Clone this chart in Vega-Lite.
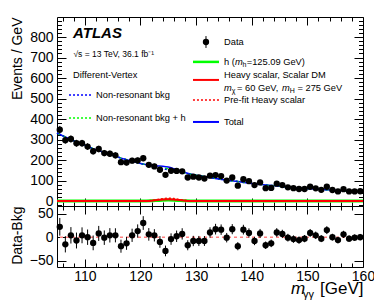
{
  "$schema": "https://vega.github.io/schema/vega-lite/v6.json",
  "padding": {"left": 9, "top": 16, "right": 2, "bottom": 2},
  "spacing": 0,
  "bounds": "flush",
  "background": "white",
  "config": {
    "view": {"stroke": "black", "strokeWidth": 1},
    "axis": {"domain": false, "grid": false, "tickColor": "black", "tickWidth": 1, "labelColor": "black", "titleColor": "black", "labelFont": "Liberation Sans", "titleFont": "Liberation Sans", "labelFontSize": 14, "titleFontSize": 14, "titleFontWeight": "normal", "labelFlush": false, "labelOverlap": false},
    "text": {"font": "Liberation Sans", "color": "black"}
  },
  "datasets": {
    "pts": [
      {"m":105.5,"data":348,"err":18.7,"resid":22},{"m":106.5,"data":297,"err":17.2,"resid":-15},{"m":107.5,"data":303,"err":17.4,"resid":4},{"m":108.5,"data":282,"err":16.8,"resid":-7},{"m":109.5,"data":282,"err":16.8,"resid":4},{"m":110.5,"data":266,"err":16.3,"resid":0},{"m":111.5,"data":243,"err":15.6,"resid":-12},{"m":112.5,"data":254,"err":15.9,"resid":8},{"m":113.5,"data":234,"err":15.3,"resid":-1},{"m":114.5,"data":231,"err":15.2,"resid":4},
      {"m":115.5,"data":223,"err":14.9,"resid":4},{"m":116.5,"data":190,"err":13.8,"resid":-19},{"m":117.5,"data":188,"err":13.7,"resid":-13},{"m":118.5,"data":197,"err":14.0,"resid":4},{"m":119.5,"data":198,"err":14.1,"resid":13},{"m":120.5,"data":209,"err":14.5,"resid":30},{"m":121.5,"data":177,"err":13.3,"resid":6},{"m":122.5,"data":169,"err":13.0,"resid":4},{"m":123.5,"data":153,"err":12.4,"resid":-10},{"m":124.5,"data":128,"err":11.3,"resid":-29},
      {"m":125.5,"data":148,"err":12.2,"resid":-4},{"m":126.5,"data":147,"err":12.1,"resid":2},{"m":127.5,"data":145,"err":12.0,"resid":7},{"m":128.5,"data":115,"err":10.7,"resid":-17},{"m":129.5,"data":119,"err":10.9,"resid":-8},{"m":130.5,"data":115,"err":10.7,"resid":-8},{"m":131.5,"data":110,"err":10.5,"resid":-8},{"m":132.5,"data":124,"err":11.1,"resid":10},{"m":133.5,"data":127,"err":11.3,"resid":17},{"m":134.5,"data":122,"err":11.0,"resid":16},
      {"m":135.5,"data":100,"err":10.0,"resid":-1},{"m":136.5,"data":115,"err":10.7,"resid":17},{"m":137.5,"data":75,"err":8.7,"resid":-19},{"m":138.5,"data":107,"err":10.3,"resid":16},{"m":139.5,"data":97,"err":9.8,"resid":9},{"m":140.5,"data":78,"err":8.8,"resid":-8},{"m":141.5,"data":91,"err":9.5,"resid":8},{"m":142.5,"data":63,"err":7.9,"resid":-17},{"m":143.5,"data":64,"err":8.0,"resid":-13},{"m":144.5,"data":85,"err":9.2,"resid":10},
      {"m":145.5,"data":78,"err":8.8,"resid":7},{"m":146.5,"data":67,"err":8.2,"resid":-1},{"m":147.5,"data":63,"err":7.9,"resid":-4},{"m":148.5,"data":59,"err":7.7,"resid":-6},{"m":149.5,"data":59,"err":7.7,"resid":-3},{"m":150.5,"data":70,"err":8.4,"resid":9},{"m":151.5,"data":62,"err":7.9,"resid":4},{"m":152.5,"data":55,"err":7.4,"resid":-3},{"m":153.5,"data":70,"err":8.4,"resid":15},{"m":154.5,"data":54,"err":7.3,"resid":0},
      {"m":155.5,"data":47,"err":6.9,"resid":-6},{"m":156.5,"data":58,"err":7.6,"resid":6},{"m":157.5,"data":47,"err":6.9,"resid":-3},{"m":158.5,"data":47,"err":6.9,"resid":-1},{"m":159.5,"data":48,"err":6.9,"resid":0}
    ],
    "curves": [
      {"m":105,"bkg":332,"bkgh":332,"total":332},{"m":107.5,"bkg":300,"bkgh":300,"total":300},{"m":110,"bkg":272,"bkgh":272,"total":272},{"m":112.5,"bkg":246,"bkgh":246,"total":246},{"m":115,"bkg":223,"bkgh":223,"total":223},{"m":117.5,"bkg":202,"bkgh":202,"total":202},{"m":119,"bkg":191,"bkgh":191,"total":191},
      {"m":120,"bkg":183,"bkgh":183.1,"total":183.3},{"m":121,"bkg":177,"bkgh":177.4,"total":178.2},{"m":122,"bkg":170,"bkgh":171.2,"total":173.4},{"m":123,"bkg":164,"bkgh":166.7,"total":171.6},{"m":124,"bkg":158,"bkgh":162.3,"total":170},{"m":125,"bkg":152,"bkgh":157,"total":166},{"m":126,"bkg":146,"bkgh":150.3,"total":158},{"m":127,"bkg":141,"bkgh":143.7,"total":148.6},{"m":128,"bkg":136,"bkgh":137.2,"total":139.4},{"m":129,"bkg":131,"bkgh":131.4,"total":132.2},{"m":130,"bkg":126,"bkgh":126.1,"total":126.3},
      {"m":131,"bkg":122,"bkgh":122,"total":122},{"m":132.5,"bkg":115,"bkgh":115,"total":115},{"m":135,"bkg":104,"bkgh":104,"total":104},{"m":137.5,"bkg":95,"bkgh":95,"total":95},{"m":140,"bkg":86,"bkgh":86,"total":86},{"m":142.5,"bkg":79,"bkgh":79,"total":79},{"m":145,"bkg":72,"bkgh":72,"total":72},{"m":147.5,"bkg":66,"bkgh":66,"total":66},{"m":150,"bkg":61,"bkgh":61,"total":61},{"m":152.5,"bkg":57,"bkgh":57,"total":57},{"m":155,"bkg":53,"bkgh":53,"total":53},{"m":157.5,"bkg":49,"bkgh":49,"total":49},{"m":160,"bkg":46,"bkgh":46,"total":46}
    ],
    "sig": [
      {"m":105,"h":0,"hs":0,"pre":0},{"m":119,"h":0,"hs":0,"pre":0},{"m":120,"h":0.1,"hs":0.2,"pre":0.3},{"m":121,"h":0.4,"hs":0.8,"pre":1.2},{"m":122,"h":1.2,"hs":2.2,"pre":3.5},{"m":123,"h":2.7,"hs":4.9,"pre":7.5},{"m":124,"h":4.3,"hs":7.7,"pre":12},{"m":125,"h":5,"hs":9,"pre":14},{"m":126,"h":4.3,"hs":7.7,"pre":12},{"m":127,"h":2.7,"hs":4.9,"pre":7.5},{"m":128,"h":1.2,"hs":2.2,"pre":3.5},{"m":129,"h":0.4,"hs":0.8,"pre":1.2},{"m":130,"h":0.1,"hs":0.2,"pre":0.3},{"m":131,"h":0,"hs":0,"pre":0},{"m":160,"h":0,"hs":0,"pre":0}
    ],
    "one": [{}]
  },
  "vconcat": [
    {
      "width": 306,
      "height": 189,
      "resolve": {"axis": {"x": "independent", "y": "independent"}},
      "layer": [
        {
          "data": {"name": "one"},
          "layer": [
            {"data": {"name": "sig"}, "mark": {"type": "line", "color": "#00ff00", "strokeWidth": 3, "interpolate": "monotone"},
             "encoding": {"x": {"field": "m", "type": "quantitative", "axis": null}, "y": {"field": "h", "type": "quantitative", "axis": null}}},
            {"data": {"name": "curves"}, "mark": {"type": "line", "color": "#0000ff", "strokeWidth": 1.5, "interpolate": "monotone"},
             "encoding": {"x": {"field": "m", "type": "quantitative", "axis": null}, "y": {"field": "total", "type": "quantitative", "axis": null}}},
            {"data": {"name": "curves"}, "mark": {"type": "line", "color": "#00ff00", "strokeWidth": 1.5, "strokeDash": [3, 3], "interpolate": "monotone"},
             "encoding": {"x": {"field": "m", "type": "quantitative", "axis": null}, "y": {"field": "bkgh", "type": "quantitative", "axis": null}}},
            {"data": {"name": "curves"}, "mark": {"type": "line", "color": "#0000ff", "strokeWidth": 1.5, "strokeDash": [2, 4], "interpolate": "monotone"},
             "encoding": {"x": {"field": "m", "type": "quantitative", "axis": null}, "y": {"field": "bkg", "type": "quantitative", "axis": null}}},
            {"data": {"name": "sig"}, "mark": {"type": "line", "color": "#ff0000", "strokeWidth": 2, "interpolate": "monotone"},
             "encoding": {"x": {"field": "m", "type": "quantitative", "axis": null}, "y": {"field": "hs", "type": "quantitative", "axis": null}}},
            {"data": {"name": "sig"}, "mark": {"type": "line", "color": "#ff0000", "strokeWidth": 1.5, "strokeDash": [2, 2], "interpolate": "monotone"},
             "encoding": {"x": {"field": "m", "type": "quantitative", "axis": null}, "y": {"field": "pre", "type": "quantitative", "axis": null}}},
            {"data": {"name": "pts"}, "mark": {"type": "errorbar", "color": "black", "thickness": 1},
             "encoding": {"x": {"field": "m", "type": "quantitative", "axis": null}, "y": {"field": "data", "type": "quantitative", "axis": null}, "yError": {"field": "err"}}},
            {"data": {"name": "pts"}, "mark": {"type": "circle", "color": "black", "size": 40, "opacity": 1},
             "encoding": {
               "x": {"field": "m", "type": "quantitative", "axis": null, "scale": {"domain": [105, 160], "nice": false, "zero": false}},
               "y": {"field": "data", "type": "quantitative", "axis": null, "scale": {"domain": [-24, 898], "nice": false, "zero": false}}}},
            {"mark": {"type": "text", "text": "ATLAS", "fontSize": 15, "fontWeight": "bold", "fontStyle": "italic", "align": "left", "baseline": "middle"},
             "encoding": {"x": {"datum": 107.88, "type": "quantitative", "axis": null}, "y": {"datum": 820, "type": "quantitative", "axis": null}}},
            {"mark": {"type": "text", "text": "√s = 13 TeV, 36.1 fb⁻¹", "fontSize": 8.5, "align": "left", "baseline": "middle"},
             "encoding": {"x": {"datum": 107.95, "type": "quantitative", "axis": null}, "y": {"datum": 718, "type": "quantitative", "axis": null}}},
            {"mark": {"type": "text", "text": "Different-Vertex", "fontSize": 9.3, "align": "left", "baseline": "middle"},
             "encoding": {"x": {"datum": 107.88, "type": "quantitative", "axis": null}, "y": {"datum": 615, "type": "quantitative", "axis": null}}},
            {"mark": {"type": "rule", "color": "#0000ff", "strokeWidth": 1.5, "strokeDash": [2, 2]},
             "encoding": {"x": {"datum": 107.16, "type": "quantitative", "axis": null}, "x2": {"datum": 111.11}, "y": {"datum": 518, "type": "quantitative", "axis": null}}},
            {"mark": {"type": "text", "text": "Non-resonant bkg", "fontSize": 9.3, "align": "left", "baseline": "middle"},
             "encoding": {"x": {"datum": 112.01, "type": "quantitative", "axis": null}, "y": {"datum": 518, "type": "quantitative", "axis": null}}},
            {"mark": {"type": "rule", "color": "#00ff00", "strokeWidth": 1.5, "strokeDash": [2, 2]},
             "encoding": {"x": {"datum": 107.16, "type": "quantitative", "axis": null}, "x2": {"datum": 111.11}, "y": {"datum": 405, "type": "quantitative", "axis": null}}},
            {"mark": {"type": "text", "text": "Non-resonant bkg + h", "fontSize": 9.3, "align": "left", "baseline": "middle"},
             "encoding": {"x": {"datum": 112.01, "type": "quantitative", "axis": null}, "y": {"datum": 405, "type": "quantitative", "axis": null}}},
            {"mark": {"type": "rule", "color": "black", "strokeWidth": 1},
             "encoding": {"x": {"datum": 131.78, "type": "quantitative", "axis": null}, "y": {"datum": 747, "type": "quantitative", "axis": null}, "y2": {"datum": 805}}},
            {"mark": {"type": "circle", "color": "black", "size": 40, "opacity": 1},
             "encoding": {"x": {"datum": 131.78, "type": "quantitative", "axis": null}, "y": {"datum": 776, "type": "quantitative", "axis": null}}},
            {"mark": {"type": "text", "text": "Data", "fontSize": 9.3, "align": "left", "baseline": "middle"},
             "encoding": {"x": {"datum": 135.02, "type": "quantitative", "axis": null}, "y": {"datum": 776, "type": "quantitative", "axis": null}}},
            {"mark": {"type": "rule", "color": "#00ff00", "strokeWidth": 2.5},
             "encoding": {"x": {"datum": 129.44, "type": "quantitative", "axis": null}, "x2": {"datum": 134.12}, "y": {"datum": 679, "type": "quantitative", "axis": null}}},
            {"mark": {"type": "text", "text": "h (", "fontSize": 9.3, "align": "left", "baseline": "middle"},
             "encoding": {"x": {"datum": 135.02, "type": "quantitative", "axis": null}, "y": {"datum": 679, "type": "quantitative", "axis": null}}},
            {"mark": {"type": "text", "text": "m", "fontSize": 9.3, "fontStyle": "italic", "align": "left", "baseline": "middle"},
             "encoding": {"x": {"datum": 136.98, "type": "quantitative", "axis": null}, "y": {"datum": 679, "type": "quantitative", "axis": null}}},
            {"mark": {"type": "text", "text": "h", "fontSize": 7, "align": "left", "baseline": "middle"},
             "encoding": {"x": {"datum": 138.36, "type": "quantitative", "axis": null}, "y": {"datum": 666, "type": "quantitative", "axis": null}}},
            {"mark": {"type": "text", "text": "=125.09 GeV)", "fontSize": 9.3, "align": "left", "baseline": "middle"},
             "encoding": {"x": {"datum": 139.1, "type": "quantitative", "axis": null}, "y": {"datum": 679, "type": "quantitative", "axis": null}}},
            {"mark": {"type": "rule", "color": "#ff0000", "strokeWidth": 2},
             "encoding": {"x": {"datum": 129.44, "type": "quantitative", "axis": null}, "x2": {"datum": 134.12}, "y": {"datum": 591, "type": "quantitative", "axis": null}}},
            {"mark": {"type": "text", "text": "Heavy scalar, Scalar DM", "fontSize": 9.3, "align": "left", "baseline": "middle"},
             "encoding": {"x": {"datum": 135.02, "type": "quantitative", "axis": null}, "y": {"datum": 615, "type": "quantitative", "axis": null}}},
            {"mark": {"type": "text", "text": "m", "fontSize": 9.3, "fontStyle": "italic", "align": "left", "baseline": "middle"},
             "encoding": {"x": {"datum": 135.02, "type": "quantitative", "axis": null}, "y": {"datum": 552, "type": "quantitative", "axis": null}}},
            {"mark": {"type": "text", "text": "χ", "fontSize": 7, "align": "left", "baseline": "middle"},
             "encoding": {"x": {"datum": 136.41, "type": "quantitative", "axis": null}, "y": {"datum": 539, "type": "quantitative", "axis": null}}},
            {"mark": {"type": "text", "text": "= 60 GeV,", "fontSize": 9.3, "align": "left", "baseline": "middle"},
             "encoding": {"x": {"datum": 137.35, "type": "quantitative", "axis": null}, "y": {"datum": 552, "type": "quantitative", "axis": null}}},
            {"mark": {"type": "text", "text": "m", "fontSize": 9.3, "fontStyle": "italic", "align": "left", "baseline": "middle"},
             "encoding": {"x": {"datum": 145.44, "type": "quantitative", "axis": null}, "y": {"datum": 552, "type": "quantitative", "axis": null}}},
            {"mark": {"type": "text", "text": "H", "fontSize": 7, "align": "left", "baseline": "middle"},
             "encoding": {"x": {"datum": 146.83, "type": "quantitative", "axis": null}, "y": {"datum": 539, "type": "quantitative", "axis": null}}},
            {"mark": {"type": "text", "text": "= 275 GeV", "fontSize": 9.3, "align": "left", "baseline": "middle"},
             "encoding": {"x": {"datum": 148.23, "type": "quantitative", "axis": null}, "y": {"datum": 552, "type": "quantitative", "axis": null}}},
            {"mark": {"type": "rule", "color": "#ff0000", "strokeWidth": 1.5, "strokeDash": [2, 2]},
             "encoding": {"x": {"datum": 129.44, "type": "quantitative", "axis": null}, "x2": {"datum": 134.12}, "y": {"datum": 493, "type": "quantitative", "axis": null}}},
            {"mark": {"type": "text", "text": "Pre-fit Heavy scalar", "fontSize": 9.3, "align": "left", "baseline": "middle"},
             "encoding": {"x": {"datum": 135.02, "type": "quantitative", "axis": null}, "y": {"datum": 493, "type": "quantitative", "axis": null}}},
            {"mark": {"type": "rule", "color": "#0000ff", "strokeWidth": 2},
             "encoding": {"x": {"datum": 129.44, "type": "quantitative", "axis": null}, "x2": {"datum": 134.12}, "y": {"datum": 386, "type": "quantitative", "axis": null}}},
            {"mark": {"type": "text", "text": "Total", "fontSize": 9.3, "align": "left", "baseline": "middle"},
             "encoding": {"x": {"datum": 135.02, "type": "quantitative", "axis": null}, "y": {"datum": 386, "type": "quantitative", "axis": null}}}
          ]
        },
        {
          "data": {"name": "pts"},
          "mark": {"type": "point", "opacity": 0},
          "encoding": {
            "x": {"field": "m", "type": "quantitative", "scale": {"domain": [105, 160], "nice": false, "zero": false},
                  "axis": {"orient": "bottom", "title": null, "labels": false, "values": [110,120,130,140,150,160], "tickSize": -8}},
            "y": {"field": "data", "type": "quantitative", "scale": {"domain": [-24, 898], "nice": false, "zero": false},
                  "axis": {"orient": "left", "title": "Events / GeV", "titleAnchor": "end", "titlePadding": 5, "labelPadding": 13, "labelOverlap": false,
                           "values": [0,100,200,300,400,500,600,700,800], "tickSize": -9}}
          }
        },
        {
          "data": {"name": "pts"},
          "mark": {"type": "point", "opacity": 0},
          "encoding": {
            "x": {"field": "m", "type": "quantitative",
                  "axis": {"orient": "bottom", "title": null, "labels": false, "values": [106,108,112,114,116,118,122,124,126,128,132,134,136,138,142,144,146,148,152,154,156,158], "tickSize": -4}},
            "y": {"field": "data", "type": "quantitative",
                  "axis": {"orient": "left", "title": null, "labels": false,
                           "values": [-20,20,40,60,80,120,140,160,180,220,240,260,280,320,340,360,380,420,440,460,480,520,540,560,580,620,640,660,680,720,740,760,780,820,840,860,880], "tickSize": -4.5}}
          }
        },
        {
          "data": {"name": "pts"},
          "mark": {"type": "point", "opacity": 0},
          "encoding": {
            "x": {"field": "m", "type": "quantitative",
                  "axis": {"orient": "top", "title": null, "labels": false, "values": [110,120,130,140,150,160], "tickSize": -8}},
            "y": {"field": "data", "type": "quantitative",
                  "axis": {"orient": "right", "title": null, "labels": false, "values": [0,100,200,300,400,500,600,700,800], "tickSize": -9}}
          }
        },
        {
          "data": {"name": "pts"},
          "mark": {"type": "point", "opacity": 0},
          "encoding": {
            "x": {"field": "m", "type": "quantitative",
                  "axis": {"orient": "top", "title": null, "labels": false, "values": [106,108,112,114,116,118,122,124,126,128,132,134,136,138,142,144,146,148,152,154,156,158], "tickSize": -4}},
            "y": {"field": "data", "type": "quantitative",
                  "axis": {"orient": "right", "title": null, "labels": false,
                           "values": [-20,20,40,60,80,120,140,160,180,220,240,260,280,320,340,360,380,420,440,460,480,520,540,560,580,620,640,660,680,720,740,760,780,820,840,860,880], "tickSize": -4.5}}
          }
        }
      ]
    },
    {
      "width": 306,
      "height": 61,
      "resolve": {"axis": {"x": "independent", "y": "independent"}},
      "layer": [
        {
          "data": {"name": "one"},
          "layer": [
            {"mark": {"type": "rule", "color": "#ff8080", "strokeWidth": 1.5, "strokeDash": [3, 3]},
             "encoding": {"y": {"datum": 0, "type": "quantitative", "axis": null}}},
            {"data": {"name": "pts"}, "mark": {"type": "errorbar", "color": "black", "thickness": 1},
             "encoding": {"x": {"field": "m", "type": "quantitative", "axis": null}, "y": {"field": "resid", "type": "quantitative", "axis": null}, "yError": {"field": "err"}}},
            {"data": {"name": "pts"}, "mark": {"type": "circle", "color": "black", "size": 40, "opacity": 1},
             "encoding": {
               "x": {"field": "m", "type": "quantitative", "axis": null, "scale": {"domain": [105, 160], "nice": false, "zero": false}},
               "y": {"field": "resid", "type": "quantitative", "axis": null, "scale": {"domain": [-63, 66], "nice": false, "zero": false}}}},
            {"mark": {"type": "text", "text": "m", "fontSize": 17, "fontStyle": "italic", "align": "left", "baseline": "alphabetic"},
             "encoding": {"x": {"datum": 147.06, "type": "quantitative", "axis": null}, "y": {"datum": -119.5, "type": "quantitative", "axis": null}}},
            {"mark": {"type": "text", "text": "γγ", "fontSize": 11, "align": "left", "baseline": "alphabetic"},
             "encoding": {"x": {"datum": 149.22, "type": "quantitative", "axis": null}, "y": {"datum": -128, "type": "quantitative", "axis": null}}},
            {"mark": {"type": "text", "text": "[GeV]", "fontSize": 17, "align": "right", "baseline": "alphabetic"},
             "encoding": {"x": {"datum": 160.1, "type": "quantitative", "axis": null}, "y": {"datum": -119.5, "type": "quantitative", "axis": null}}}
          ]
        },
        {
          "data": {"name": "pts"},
          "mark": {"type": "point", "opacity": 0},
          "encoding": {
            "x": {"field": "m", "type": "quantitative", "scale": {"domain": [105, 160], "nice": false, "zero": false},
                  "axis": {"orient": "bottom", "title": null, "labelPadding": 10, "labelOverlap": false, "values": [110,120,130,140,150,160], "tickSize": -8}},
            "y": {"field": "resid", "type": "quantitative", "scale": {"domain": [-63, 66], "nice": false, "zero": false},
                  "axis": {"orient": "left", "title": "Data-Bkg", "titleAnchor": "end", "titlePadding": 5, "labelPadding": 13, "labelOverlap": false, "values": [-50, 0, 50], "tickSize": -9}}
          }
        },
        {
          "data": {"name": "pts"},
          "mark": {"type": "point", "opacity": 0},
          "encoding": {
            "x": {"field": "m", "type": "quantitative",
                  "axis": {"orient": "bottom", "title": null, "labels": false, "values": [106,108,112,114,116,118,122,124,126,128,132,134,136,138,142,144,146,148,152,154,156,158], "tickSize": -4}},
            "y": {"field": "resid", "type": "quantitative",
                  "axis": {"orient": "right", "title": null, "labels": false, "values": [-50, 0, 50], "tickSize": -9}}
          }
        },
        {
          "data": {"name": "pts"},
          "mark": {"type": "point", "opacity": 0},
          "encoding": {
            "x": {"field": "m", "type": "quantitative",
                  "axis": {"orient": "top", "title": null, "labels": false, "values": [110,120,130,140,150,160], "tickSize": -8}},
            "y": {"field": "resid", "type": "quantitative", "axis": null}
          }
        },
        {
          "data": {"name": "pts"},
          "mark": {"type": "point", "opacity": 0},
          "encoding": {
            "x": {"field": "m", "type": "quantitative",
                  "axis": {"orient": "top", "title": null, "labels": false, "values": [106,108,112,114,116,118,122,124,126,128,132,134,136,138,142,144,146,148,152,154,156,158], "tickSize": -4}},
            "y": {"field": "resid", "type": "quantitative", "axis": null}
          }
        }
      ]
    }
  ]
}
